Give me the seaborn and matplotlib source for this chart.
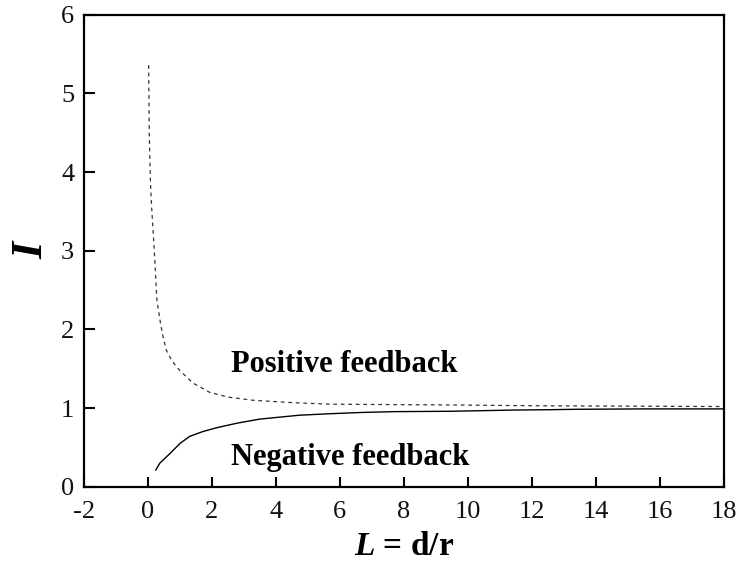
import numpy as np
import pandas as pd
import matplotlib
matplotlib.use("Agg")
import matplotlib.pyplot as plt
import seaborn as sns

# Normalised tip current I versus normalised distance L = d/r
pos_L = [0.02, 0.04, 0.075, 0.11, 0.19, 0.28, 0.39, 0.47, 0.57, 0.75, 0.99, 1.40, 1.93,
         2.50, 3.27, 4.50, 5.68, 7.50, 9.50, 12.0, 15.0, 18.0]
pos_I = [5.36, 4.49, 3.90, 3.58, 3.05, 2.37, 2.08, 1.91, 1.74, 1.60, 1.48, 1.32, 1.20,
         1.14, 1.10, 1.07, 1.05, 1.045, 1.04, 1.03, 1.025, 1.02]

neg_L = [0.24, 0.37, 0.68, 1.00, 1.30, 1.70, 2.14, 2.80, 3.49, 4.74, 5.77, 6.70, 7.70,
         9.50, 11.4, 12.6, 13.4, 15.5, 18.0]
neg_I = [0.21, 0.30, 0.42, 0.55, 0.64, 0.70, 0.75, 0.81, 0.86, 0.91, 0.93, 0.945, 0.955,
         0.96, 0.975, 0.98, 0.985, 0.99, 0.99]

x_ticks = [-2, 0, 2, 4, 6, 8, 10, 12, 14, 16, 18]
y_ticks = [0, 1, 2, 3, 4, 5, 6]

sns.set_style("ticks")
plt.rcParams["font.family"] = ["Liberation Serif", "DejaVu Serif"]
plt.rcParams["text.color"] = "black"
plt.rcParams["axes.labelcolor"] = "black"
plt.rcParams["mathtext.fontset"] = "custom"
plt.rcParams["mathtext.it"] = "Liberation Serif:italic:bold"
plt.rcParams["mathtext.rm"] = "Liberation Serif:bold"
plt.rcParams["mathtext.bf"] = "Liberation Serif:bold"

pos_df = pd.DataFrame({"L": pos_L, "I": pos_I})
neg_df = pd.DataFrame({"L": neg_L, "I": neg_I})

fig = plt.figure(figsize=(7.37, 5.68), dpi=100)
ax = fig.add_axes([0.114, 0.143, 0.868, 0.831])

sns.lineplot(data=pos_df, x="L", y="I", ax=ax, sort=False, color="#333333",
             linewidth=0.9, linestyle=(0, (3, 3)), estimator=None)
sns.lineplot(data=neg_df, x="L", y="I", ax=ax, sort=False, color="black",
             linewidth=1.0, estimator=None)

ax.set_xlim(-2, 18)
ax.set_ylim(0, 6)
ax.set_xticks(x_ticks)
ax.set_yticks(y_ticks)
ax.set_xticklabels([str(t) for t in x_ticks])
ax.set_yticklabels([str(t) for t in y_ticks])
ax.tick_params(axis="both", direction="in", labelsize=19, width=1.5,
               top=False, right=False, colors="black", labelcolor="#111111")
ax.tick_params(axis="x", length=7, pad=10)
ax.tick_params(axis="y", length=8, pad=7)

for side in ["left", "right", "top", "bottom"]:
    ax.spines[side].set_visible(True)
    ax.spines[side].set_linewidth(1.6)
    ax.spines[side].set_color("black")

ax.set_xlabel(r"$\mathit{L}$ = d/r", fontsize=24, fontweight="bold", labelpad=6)
ax.set_ylabel("I", fontsize=32, fontweight="bold", fontstyle="italic", labelpad=7)

ax.text(2.6, 1.46, "Positive feedback", fontsize=22, fontweight="bold",
        ha="left", va="baseline")
ax.text(2.6, 0.276, "Negative feedback", fontsize=22, fontweight="bold",
        ha="left", va="baseline")

fig.savefig("out.png", dpi=100, facecolor="white")
